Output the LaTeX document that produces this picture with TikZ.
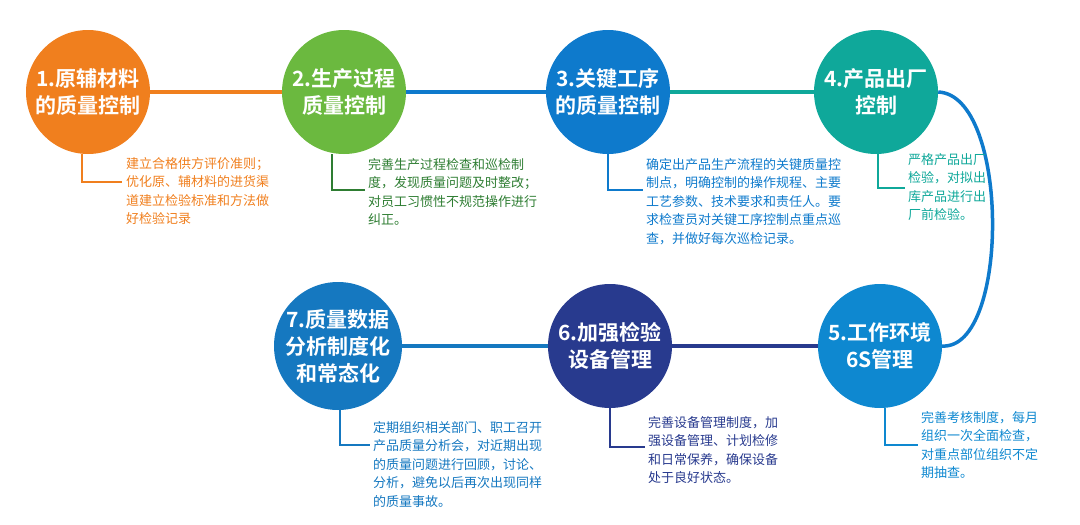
\documentclass[tikz,border=0pt]{standalone}
\usepackage{fontspec}
\setmainfont{Noto Sans CJK SC}
\newfontfamily\cjkb{Noto Sans CJK SC Bold}
\definecolor{cA}{HTML}{F07F1E}
\definecolor{cB}{HTML}{6BB93F}
\definecolor{cBt}{HTML}{2E7D32}
\definecolor{cC}{HTML}{0E7ACC}
\definecolor{cD}{HTML}{0FA89A}
\definecolor{cE}{HTML}{0E88D0}
\definecolor{cF}{HTML}{283A8E}
\definecolor{cG}{HTML}{1578C0}
\begin{document}
\begin{tikzpicture}[x=1pt,y=-1pt,
  ball/.style={circle,fill=#1,minimum size=124pt,inner sep=0pt,text=white,align=center,font=\cjkb\fontsize{21}{27}\selectfont},
  desc/.style={anchor=north west,align=left,text=#1,font=\fontsize{13}{18.5}\selectfont,inner sep=0pt},
  lk/.style={line width=3.5pt,draw=#1},
  co/.style={line width=2pt,draw=#1}]
\useasboundingbox (0,0) rectangle (1080,525);
\node[ball=cA] (n1) at (88,92) {1.原辅材料\\的质量控制};
\node[ball=cB] (n2) at (344,92) {2.生产过程\\质量控制};
\node[ball=cC] (n3) at (608,92) {3.关键工序\\的质量控制};
\node[ball=cD] (n4) at (876,92) {4.产品出厂\\控制};
\node[ball=cE] (n5) at (880,346) {5.工作环境\\6S管理};
\node[ball=cF] (n6) at (610,346) {6.加强检验\\设备管理};
\node[ball=cG] (n7) at (338,346) {7.质量数据\\分析制度化\\和常态化};
\draw[lk=cA] (n1.east) -- (n2.west);
\draw[lk=cC] (n2.east) -- (n3.west);
\draw[lk=cD] (n3.east) -- (n4.west);
\draw[lk=cC] (n4.east) .. controls (1010,95) and (1010,350) .. (n5.east);
\draw[lk=cF] (n5.west) -- (n6.east);
\draw[lk=cG] (n6.west) -- (n7.east);
% callouts
\coordinate (k1) at (82,182); \coordinate (e1) at (122,182);
\draw[co=cA] (n1.south -| k1) -- (k1) -- (e1);
\node[desc=cA] (t1) at (126,157) {建立合格供方评价准则；\\优化原、辅材料的进货渠\\道建立检验标准和方法做\\好检验记录};
\coordinate (k2) at (332,190); \coordinate (e2) at (365,190);
\draw[co=cBt] (n2.south -| k2) -- (k2) -- (e2);
\node[desc=cBt] (t2) at (368,158) {完善生产过程检查和巡检制\\度，发现质量问题及时整改；\\对员工习惯性不规范操作进行\\纠正。};
\coordinate (k3) at (608,190); \coordinate (e3) at (643,190);
\draw[co=cC] (n3.south) -- (k3) -- (e3);
\node[desc=cC] (t3) at (646,158) {确定出产品生产流程的关键质量控\\制点，明确控制的操作规程、主要\\工艺参数、技术要求和责任人。要\\求检查员对关键工序控制点重点巡\\查，并做好每次巡检记录。};
\coordinate (k4) at (878,188); \coordinate (e4) at (905,188);
\draw[co=cD] (n4.south -| k4) -- (k4) -- (e4);
\node[desc=cD] (t4) at (908,153) {严格产品出厂\\检验，对拟出\\库产品进行出\\厂前检验。};
\coordinate (k5) at (885,445); \coordinate (e5) at (918,445);
\draw[co=cE] (n5.south -| k5) -- (k5) -- (e5);
\node[desc=cE] (t5) at (921,411) {完善考核制度，每月\\组织一次全面检查，\\对重点部位组织不定\\期抽查。};
\coordinate (k6) at (610,447); \coordinate (e6) at (645,447);
\draw[co=cF] (n6.south) -- (k6) -- (e6);
\node[desc=cF] (t6) at (648,416) {完善设备管理制度，加\\强设备管理、计划检修\\和日常保养，确保设备\\处于良好状态。};
\coordinate (k7) at (340,445); \coordinate (e7) at (370,445);
\draw[co=cG] (n7.south -| k7) -- (k7) -- (e7);
\node[desc=cG] (t7) at (373,421) {定期组织相关部门、职工召开\\产品质量分析会，对近期出现\\的质量问题进行回顾，讨论、\\分析，避免以后再次出现同样\\的质量事故。};
\end{tikzpicture}
\end{document}
